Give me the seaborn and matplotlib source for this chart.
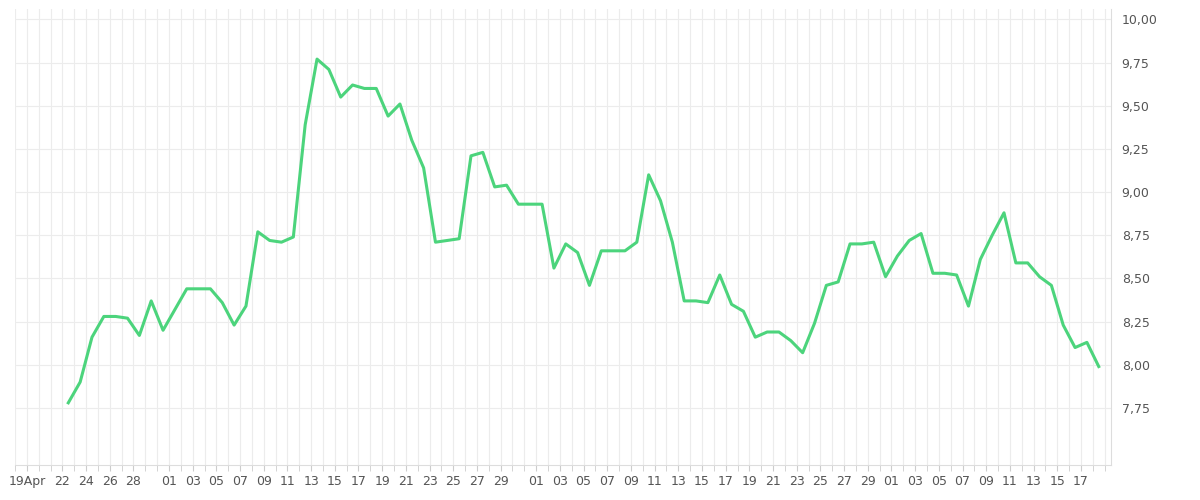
import matplotlib
matplotlib.use("Agg")
import matplotlib.pyplot as plt
import matplotlib.dates as mdates
import seaborn as sns
import pandas as pd

start_date = "2024-04-22 12:00"
values = [7.78, 7.90, 8.16, 8.28, 8.28, 8.27, 8.17, 8.37, 8.20, 8.32, 8.44, 8.44, 8.44, 8.36,
          8.23, 8.34, 8.77, 8.72, 8.71, 8.74, 9.39, 9.77, 9.71, 9.55, 9.62, 9.60, 9.60, 9.44,
          9.51, 9.30, 9.14, 8.71, 8.72, 8.73, 9.21, 9.23, 9.03, 9.04, 8.93, 8.93, 8.93, 8.56,
          8.70, 8.65, 8.46, 8.66, 8.66, 8.66, 8.71, 9.10, 8.95, 8.71, 8.37, 8.37, 8.36, 8.52,
          8.35, 8.31, 8.16, 8.19, 8.19, 8.14, 8.07, 8.24, 8.46, 8.48, 8.70, 8.70, 8.71, 8.51,
          8.63, 8.72, 8.76, 8.53, 8.53, 8.52, 8.34, 8.61, 8.75, 8.88, 8.59, 8.59, 8.51, 8.46,
          8.23, 8.10, 8.13, 7.99]
tick_dates = ["2024-04-19", "2024-04-22", "2024-04-24", "2024-04-26", "2024-04-28"] + \
    [f"2024-05-{d:02d}" for d in range(1, 30, 2)] + \
    [f"2024-06-{d:02d}" for d in range(1, 30, 2)] + \
    [f"2024-07-{d:02d}" for d in range(1, 18, 2)]
tick_labels = ["19Apr"] + [t[-2:] for t in tick_dates[1:]]
y_ticks = [7.75, 8.00, 8.25, 8.50, 8.75, 9.00, 9.25, 9.50, 9.75, 10.00]

df = pd.DataFrame({"date": pd.date_range(start_date, periods=len(values), freq="D"),
                   "value": values})

fig = plt.figure(figsize=(12, 5), dpi=100)
ax = fig.add_axes([0.0125, 0.07, 0.913, 0.912])
sns.lineplot(data=df, x="date", y="value", ax=ax, color="#4cd47c", linewidth=2.2)

ax.set_xlim(pd.Timestamp("2024-04-18"), pd.Timestamp("2024-07-19 12:00"))
ax.set_ylim(7.42, 10.06)
ax.set_xticks(pd.to_datetime(tick_dates))
ax.set_xticklabels(tick_labels)
ax.xaxis.set_minor_locator(mdates.DayLocator())
ax.set_yticks(y_ticks)
ax.set_yticklabels([f"{v:.2f}".replace(".", ",") for v in y_ticks])
ax.yaxis.tick_right()
ax.grid(True, which="both", color="#ececec", linewidth=0.8)
ax.set_axisbelow(True)
for s in ax.spines.values():
    s.set_visible(False)
ax.spines["bottom"].set_visible(True)
ax.spines["bottom"].set_color("#dddddd")
ax.spines["right"].set_visible(True)
ax.spines["right"].set_color("#dddddd")
ax.tick_params(axis="both", which="both", colors="#cccccc", labelcolor="#555555",
               labelsize=9, length=4)
ax.tick_params(axis="y", length=0, pad=8)
ax.set_xlabel("")
ax.set_ylabel("")
fig.savefig("out.png", dpi=100)
